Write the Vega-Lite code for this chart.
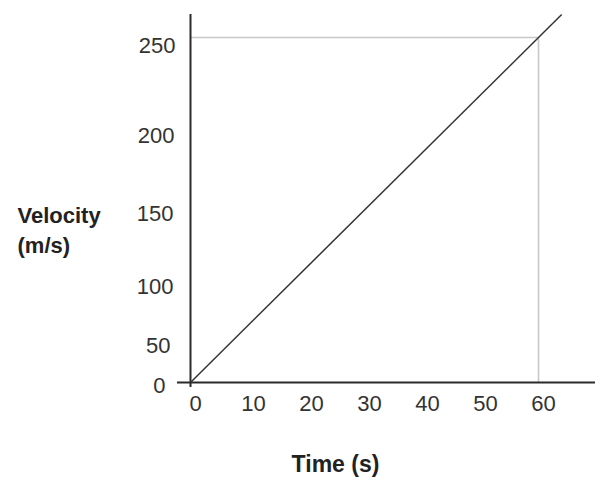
{
  "$schema": "https://vega.github.io/schema/vega-lite/v6.json",
  "width": 418,
  "height": 373,
  "autosize": {"type": "none"},
  "padding": {"left": 177, "top": 14, "right": 2, "bottom": 92},
  "background": "white",
  "config": {"view": {"stroke": null}, "font": "Liberation Sans"},
  "datasets": {
    "line": [{"t": 0, "v": 0}, {"t": 64, "v": 266.7}],
    "marker": [{"t": 60, "v": 250, "t0": 0, "v0": 0}]
  },
  "layer": [
    {
      "data": {"name": "marker"},
      "mark": {"type": "rule", "color": "#c8c8c8", "strokeWidth": 1.6},
      "encoding": {
        "x": {"field": "t0", "type": "quantitative", "scale": {"domain": [-2.328, 69.74], "nice": false, "zero": false}},
        "x2": {"field": "t"},
        "y": {"field": "v", "type": "quantitative", "scale": {"domain": [-3.26, 267.03], "nice": false, "zero": false}}
      }
    },
    {
      "data": {"name": "marker"},
      "mark": {"type": "rule", "color": "#c8c8c8", "strokeWidth": 1.6},
      "encoding": {
        "x": {"field": "t", "type": "quantitative", "scale": {"domain": [-2.328, 69.74], "nice": false, "zero": false}},
        "y": {"field": "v0", "type": "quantitative", "scale": {"domain": [-3.26, 267.03], "nice": false, "zero": false}},
        "y2": {"field": "v"}
      }
    },
    {
      "data": {"name": "marker"},
      "mark": {"type": "rule", "color": "#2b2b2b", "strokeWidth": 2},
      "encoding": {
        "y": {"field": "v0", "type": "quantitative", "scale": {"domain": [-3.26, 267.03], "nice": false, "zero": false}}
      }
    },
    {
      "data": {"name": "marker"},
      "mark": {"type": "rule", "color": "#2b2b2b", "strokeWidth": 2},
      "encoding": {
        "x": {"field": "t0", "type": "quantitative", "scale": {"domain": [-2.328, 69.74], "nice": false, "zero": false}}
      }
    },
    {
      "data": {"name": "line"},
      "mark": {"type": "line", "color": "#333333", "strokeWidth": 1.5},
      "encoding": {
        "x": {
          "field": "t",
          "type": "quantitative",
          "scale": {"domain": [-2.328, 69.74], "nice": false, "zero": false},
          "axis": {
            "title": "Time (s)",
            "titleX": 158,
            "titleY": 84,
            "titleAlign": "center",
            "titleBaseline": "alphabetic",
            "titleFontSize": 23,
            "titleFontWeight": "bold",
            "titleColor": "#222222",
            "values": [0, 10, 20, 30, 40, 50, 60],
            "domain": false,
            "ticks": false,
            "grid": false,
            "labelFontSize": 22,
            "labelColor": "#333333",
            "labelOffset": 4.5,
            "labelPadding": 6,
            "labelBaseline": "top",
            "labelFlush": false,
            "labelOverlap": false,
            "labelBound": false
          }
        },
        "y": {
          "field": "v",
          "type": "quantitative",
          "scale": {"domain": [-3.26, 267.03], "nice": false, "zero": false},
          "axis": {
            "title": ["Velocity", "\u00a0(m/s)"],
            "titleAngle": 0,
            "titleAlign": "left",
            "titleBaseline": "alphabetic",
            "titleX": -160,
            "titleY": 208,
            "titleFontSize": 22,
            "titleFontWeight": "bold",
            "titleColor": "#222222",
            "titleLineHeight": 30,
            "values": [0, 50, 100, 150, 200, 250],
            "domain": false,
            "ticks": false,
            "grid": false,
            "labelFontSize": 22,
            "labelColor": "#333333",
            "labelBaseline": "middle",
            "labelFlush": false,
            "labelOverlap": false,
            "labelBound": false,
            "labelOffset": {"expr": "datum.value == 0 ? 3 : datum.value == 50 ? 31.8 : datum.value == 100 ? 42.2 : datum.value == 150 ? 38.2 : datum.value == 200 ? 28.8 : 7.8"},
            "labelPadding": {"expr": "datum.value == 0 ? 12 : datum.value == 50 ? 7 : datum.value == 100 ? 4 : datum.value == 150 ? 4 : datum.value == 200 ? 3 : 2"}
          }
        }
      }
    }
  ]
}
